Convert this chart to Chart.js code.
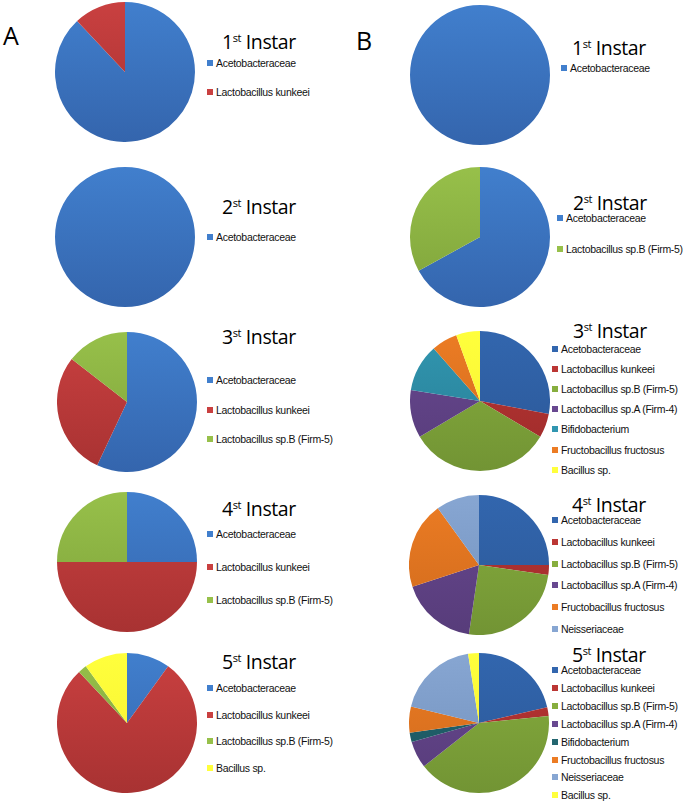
<!DOCTYPE html>
<html>
<head>
<meta charset="utf-8">
<script src="https://cdn.jsdelivr.net/npm/chart.js@4.4.0/dist/chart.umd.min.js"></script>
<style>
  body { margin:0; background:#fff; width:683px; height:805px; position:relative; overflow:hidden;
         font-family:"Liberation Sans", Arial, sans-serif; }
  canvas { position:absolute; }
  .letter { position:absolute; font-size:25px; color:#000; font-family:"Open Sans", sans-serif; }
  .title { position:absolute; font-size:19.5px; color:#000; white-space:nowrap; line-height:20px;
           font-family:"Open Sans", sans-serif; letter-spacing:-0.4px; }
  .title sup { font-size:11px; vertical-align:7px; line-height:0; }
  .leg { position:absolute; font-size:10.5px; color:#111; white-space:nowrap; line-height:12px; letter-spacing:-0.3px; }
  .leg i { display:inline-block; width:6px; height:6px; margin-right:3px; vertical-align:1px; }
</style>
</head>
<body>
<div class="letter" style="left:3px;top:18px">A</div>
<div class="letter" style="left:356px;top:23px">B</div>
<script>
// data (percent of reads)
var labelsA1 = ['Acetobacteraceae', 'Lactobacillus kunkeei'];
var valuesA1 = [88, 12];
var labelsA2 = ['Acetobacteraceae'];
var valuesA2 = [100];
var labelsA3 = ['Acetobacteraceae', 'Lactobacillus kunkeei', 'Lactobacillus sp.B (Firm-5)'];
var valuesA3 = [57, 28.5, 14.5];
var labelsA4 = ['Acetobacteraceae', 'Lactobacillus kunkeei', 'Lactobacillus sp.B (Firm-5)'];
var valuesA4 = [25, 50, 25];
var labelsA5 = ['Acetobacteraceae', 'Lactobacillus kunkeei', 'Lactobacillus sp.B (Firm-5)', 'Bacillus sp.'];
var valuesA5 = [10, 78, 2, 10];

var labelsB1 = ['Acetobacteraceae'];
var valuesB1 = [100];
var labelsB2 = ['Acetobacteraceae', 'Lactobacillus sp.B (Firm-5)'];
var valuesB2 = [67, 33];
var labelsB3 = ['Acetobacteraceae', 'Lactobacillus kunkeei', 'Lactobacillus sp.B (Firm-5)', 'Lactobacillus sp.A (Firm-4)',
                'Bifidobacterium', 'Fructobacillus fructosus', 'Bacillus sp.'];
var valuesB3 = [28, 5.5, 33, 11, 11, 6, 5.5];
var labelsB4 = ['Acetobacteraceae', 'Lactobacillus kunkeei', 'Lactobacillus sp.B (Firm-5)', 'Lactobacillus sp.A (Firm-4)',
                'Fructobacillus fructosus', 'Neisseriaceae'];
var valuesB4 = [25, 2.3, 25, 17.7, 20, 10];
var labelsB5 = ['Acetobacteraceae', 'Lactobacillus kunkeei', 'Lactobacillus sp.B (Firm-5)', 'Lactobacillus sp.A (Firm-4)',
                'Bifidobacterium', 'Fructobacillus fructosus', 'Neisseriaceae', 'Bacillus sp.'];
var valuesB5 = [21.4, 2, 41, 6.2, 2.2, 6, 18.7, 2.5];

var instarTitles = ['1', '2', '3', '4', '5'];

// colours per taxon [top, bottom] of the soft gradient
var colA = { 'Acetobacteraceae':['#417fcd','#3465ad'], 'Lactobacillus kunkeei':['#c94040','#a83232'],
             'Lactobacillus sp.B (Firm-5)':['#97c04a','#7ea23a'], 'Bacillus sp.':['#ffff3c','#f6f030'] };
var colB = { 'Acetobacteraceae':['#3266ae','#2b5796'], 'Lactobacillus kunkeei':['#bb3634','#9c2b2a'],
             'Lactobacillus sp.B (Firm-5)':['#87ae3e','#729434'], 'Lactobacillus sp.A (Firm-4)':['#684890','#573c7a'],
             'Bifidobacterium':['#3196b0','#277d94'], 'Fructobacillus fructosus':['#ec7c24','#cf6a1c'],
             'Neisseriaceae':['#87a6d2','#7291bd'], 'Bacillus sp.':['#ffff3c','#f6f030'] };
var colB1 = { 'Acetobacteraceae':['#417fcd','#3465ad'], 'Lactobacillus sp.B (Firm-5)':['#97c04a','#7ea23a'] };
var colB5 = Object.assign({}, colB, { 'Bifidobacterium':['#236670','#1c5560'] });

var panels = [
  { labels:labelsA1, values:valuesA1, cols:colA, n:0, cx:125, cy:72,  tx:222, tb:48,  lx:207, ly:63,  ls:29 },
  { labels:labelsA2, values:valuesA2, cols:colA, n:1, cx:125, cy:237, tx:222, tb:213, lx:207, ly:237, ls:29 },
  { labels:labelsA3, values:valuesA3, cols:colA, n:2, cx:127, cy:402, tx:222, tb:343, lx:207, ly:380, ls:29.5 },
  { labels:labelsA4, values:valuesA4, cols:colA, n:3, cx:127, cy:562, tx:222, tb:515, lx:207, ly:534, ls:33 },
  { labels:labelsA5, values:valuesA5, cols:colA, n:4, cx:127, cy:723, tx:222, tb:668, lx:207, ly:688, ls:26.7 },
  { labels:labelsB1, values:valuesB1, cols:colB1, n:0, cx:480, cy:75,  tx:572, tb:54,  lx:561, ly:68,  ls:20 },
  { labels:labelsB2, values:valuesB2, cols:colB1, n:1, cx:480, cy:237, tx:573, tb:209, lx:557, ly:218, ls:31 },
  { labels:labelsB3, values:valuesB3, cols:colB, n:2, cx:480, cy:401, tx:573, tb:337, lx:552, ly:349, ls:20.1 },
  { labels:labelsB4, values:valuesB4, cols:colB, n:3, cx:479, cy:565, tx:572, tb:511, lx:552, ly:520, ls:21.8 },
  { labels:labelsB5, values:valuesB5, cols:colB5, n:4, cx:479, cy:723, tx:572, tb:661, lx:552, ly:670, ls:17.9 }
];

var R = 70;

panels.forEach(function(p) {
  var cv = document.createElement('canvas');
  cv.width = 2 * R; cv.height = 2 * R;
  cv.style.left = (p.cx - R) + 'px';
  cv.style.top = (p.cy - R) + 'px';
  document.body.appendChild(cv);

  new Chart(cv, {
    type: 'pie',
    data: {
      labels: p.labels,
      datasets: [{
        data: p.values,
        backgroundColor: function(ctx) {
          var c = p.cols[p.labels[ctx.dataIndex]];
          var area = ctx.chart.chartArea;
          if (!c) return '#888';
          if (!area) return c[0];
          var g = ctx.chart.ctx.createLinearGradient(0, area.top, 0, area.bottom);
          g.addColorStop(0, c[0]);
          g.addColorStop(1, c[1]);
          return g;
        },
        borderWidth: 0
      }]
    },
    options: {
      responsive: false,
      animation: false,
      layout: { padding: 0 },
      plugins: { legend: { display: false }, tooltip: { enabled: false } }
    }
  });

  var t = document.createElement('div');
  t.className = 'title';
  t.innerHTML = instarTitles[p.n] + '<sup>st</sup> Instar';
  t.style.left = p.tx + 'px';
  t.style.top = (p.tb - 16) + 'px';
  document.body.appendChild(t);

  p.labels.forEach(function(l, i) {
    var d = document.createElement('div');
    d.className = 'leg';
    d.innerHTML = '<i style="background:' + p.cols[l][0] + '"></i>' + l;
    d.style.left = p.lx + 'px';
    d.style.top = (p.ly + i * p.ls - 6) + 'px';
    document.body.appendChild(d);
  });
});
</script>
</body>
</html>
